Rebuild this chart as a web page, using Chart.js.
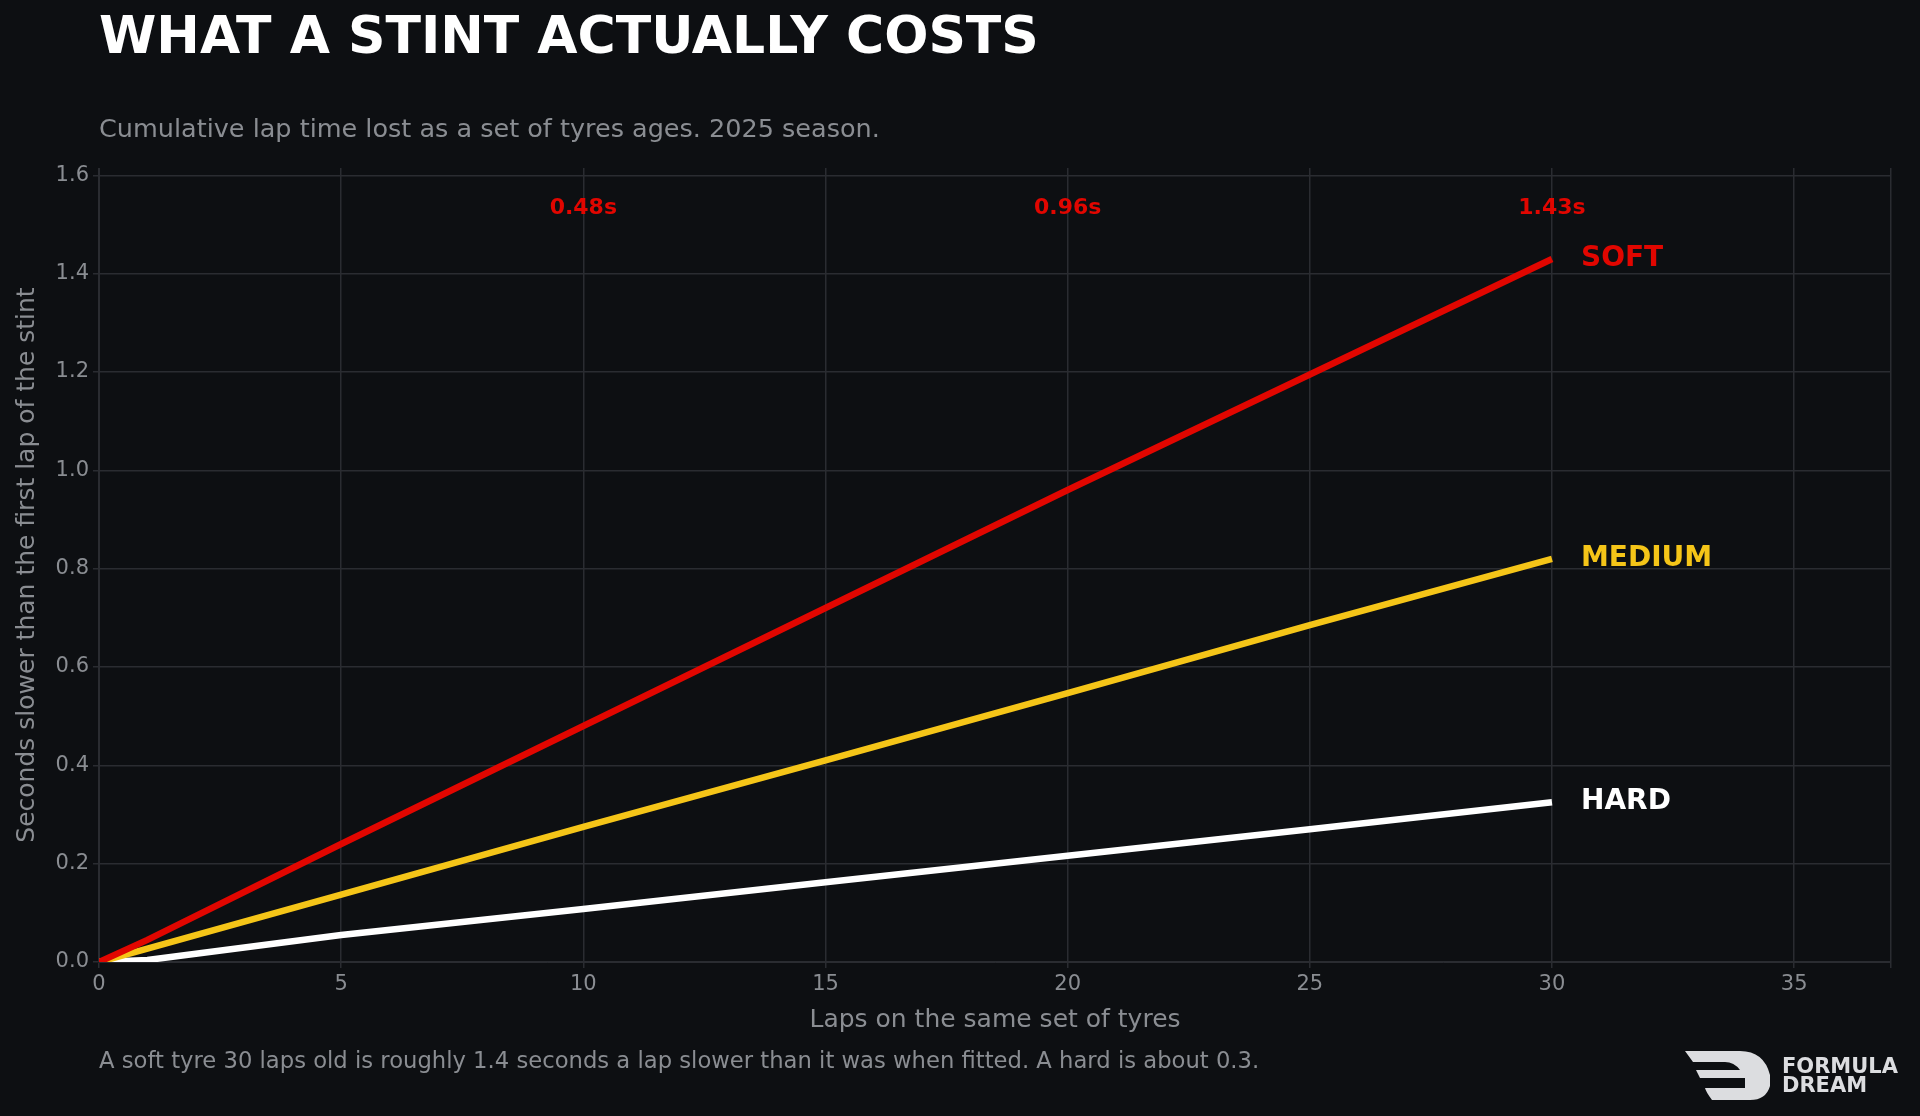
<!DOCTYPE html>
<html><head><meta charset="utf-8">
<script src="https://cdn.jsdelivr.net/npm/chart.js@4"></script>
<style>html,body{margin:0;background:#0d0f12;overflow:hidden}</style>
</head><body>
<canvas id="c" width="1920" height="1116"></canvas>
<script>
const laps = [0, 1, 5, 10, 15, 20, 25, 30];
const soft = [0, 0.045, 0.24, 0.48, 0.72, 0.96, 1.195, 1.43];
const medium = [0, 0.027, 0.137, 0.275, 0.41, 0.547, 0.685, 0.82];
const hard = [0, 0.004, 0.055, 0.108, 0.162, 0.216, 0.27, 0.325];
const markerLaps = [10, 20, 30];
const markerLabels = ['0.48s', '0.96s', '1.43s'];
const compounds = [
  { name: 'SOFT', data: soft, color: '#e10600' },
  { name: 'MEDIUM', data: medium, color: '#f5c518' },
  { name: 'HARD', data: hard, color: '#ffffff' }
];

const F = 'DejaVu Sans';
const textPlugin = {
  id: 'texts',
  afterDraw(chart) {
    const ctx = chart.ctx, x = chart.scales.x, y = chart.scales.y;
    ctx.save();
    ctx.textBaseline = 'middle';
    ctx.fillStyle = '#ffffff';
    ctx.font = 'bold 52px ' + F;
    ctx.fillText('WHAT A STINT ACTUALLY COSTS', 99, 39);
    ctx.fillStyle = '#8a8d92';
    ctx.font = '25.5px ' + F;
    ctx.fillText('Cumulative lap time lost as a set of tyres ages. 2025 season.', 99, 130);
    ctx.font = '22.7px ' + F;
    ctx.fillText('A soft tyre 30 laps old is roughly 1.4 seconds a lap slower than it was when fitted. A hard is about 0.3.', 99, 1062);
    ctx.textAlign = 'center';
    ctx.fillStyle = '#e10600';
    ctx.font = 'bold 22px ' + F;
    markerLaps.forEach((l, i) => ctx.fillText(markerLabels[i], x.getPixelForValue(l), 208));
    ctx.textAlign = 'left';
    ctx.font = 'bold 28px ' + F;
    compounds.forEach(c => {
      ctx.fillStyle = c.color;
      ctx.fillText(c.name, x.getPixelForValue(30) + 29, y.getPixelForValue(c.data.at(-1)));
    });
    // logo
    ctx.fillStyle = '#dcdde0';
    ctx.beginPath();
    ctx.moveTo(1685, 1051); ctx.lineTo(1740, 1051);
    ctx.quadraticCurveTo(1764, 1051, 1770, 1075);
    ctx.lineTo(1770, 1086);
    ctx.quadraticCurveTo(1766, 1100, 1750, 1100);
    ctx.lineTo(1712, 1100);
    ctx.quadraticCurveTo(1706, 1092, 1705, 1088);
    ctx.lineTo(1745, 1088); ctx.lineTo(1745, 1078);
    ctx.lineTo(1700, 1078); ctx.lineTo(1696, 1070);
    ctx.lineTo(1740, 1070);
    ctx.quadraticCurveTo(1734, 1062, 1725, 1062);
    ctx.lineTo(1693, 1062);
    ctx.closePath(); ctx.fill();
    ctx.font = 'bold 21px ' + F;
    ctx.fillText('FORMULA', 1782, 1068);
    ctx.fillText('DREAM', 1782, 1087);
    ctx.restore();
  }
};

new Chart(document.getElementById('c'), {
  type: 'line',
  data: {
    datasets: compounds.map(c => ({
      label: c.name,
      data: laps.map((l, i) => ({ x: l, y: c.data[i] })),
      borderColor: c.color,
      borderWidth: 6.5,
      pointRadius: 0,
      tension: 0
    }))
  },
  options: {
    responsive: false,
    animation: false,
    layout: { padding: { top: 168, left: 8, right: 29, bottom: 77 } },
    plugins: { legend: { display: false }, tooltip: { enabled: false } },
    scales: {
      x: {
        type: 'linear', min: 0, max: 37,
        afterFit: s => { s.height = 77; },
        ticks: { stepSize: 5, padding: 4, color: '#8a8d92', font: { family: F, size: 21 }, callback: v => v % 5 === 0 && v <= 35 ? v : '' },
        grid: { color: '#2a2c31', lineWidth: 1.5, tickLength: 6 },
        border: { color: '#2a2c31' },
        title: { display: true, text: 'Laps on the same set of tyres', color: '#8a8d92', font: { family: F, size: 25 }, padding: { top: 6, bottom: 4 } }
      },
      y: {
        min: 0, max: 1.615,
        afterFit: s => { s.width = 91; },
        afterBuildTicks: s => { s.ticks = [0, 0.2, 0.4, 0.6, 0.8, 1, 1.2, 1.4, 1.6].map(v => ({ value: v })); },
        ticks: { padding: 4, color: '#8a8d92', font: { family: F, size: 21 }, callback: v => v.toFixed(1) },
        grid: { color: '#2a2c31', lineWidth: 1.5, tickLength: 6 },
        border: { color: '#2a2c31' },
        title: { display: true, text: 'Seconds slower than the first lap of the stint', color: '#8a8d92', font: { family: F, size: 25 }, padding: { bottom: 4 } }
      }
    }
  },
  plugins: [textPlugin]
});
</script>
</body></html>
